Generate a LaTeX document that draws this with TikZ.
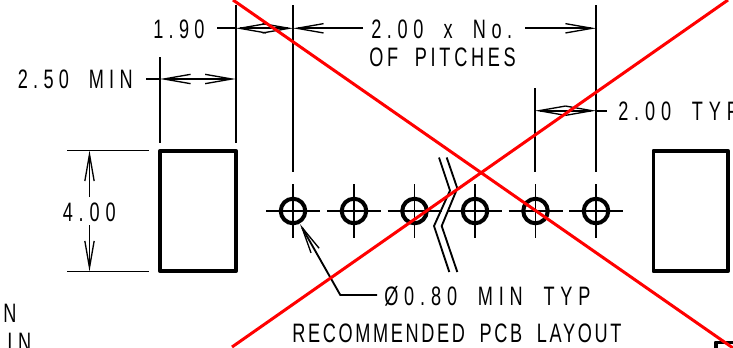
\documentclass[tikz,border=0pt]{standalone}
\usepackage{fontspec}
\setmainfont{Liberation Sans}[FakeStretch=0.68,WordSpace=1.9]
\newcommand{\lsp}[2]{\addfontfeature{LetterSpace=#1}#2}
\usetikzlibrary{arrows.meta}
\tikzset{
 x=0.75pt,y=-0.75pt,
 tipb/.tip={Straight Barb[length=20pt,width=7pt,line width=1pt]},
 thinl/.style={line width=1.4pt,draw=black},
 dim/.style={thinl,tipb-tipb},
 ld/.style={thinl,-tipb},
 pad/.style={draw=black,line width=2.8pt,line join=round},
 hole/.style={draw=black,line width=3pt,circle,minimum size=18.4pt,inner sep=0pt},
 cl/.style={line width=1.1pt,draw=black},
 ext/.style={line width=1.4pt,draw=black},
 xline/.style={draw=red,line width=2.25pt},
 lbl/.style={inner sep=0pt,anchor=base west,font=\fontsize{20}{20}\selectfont,text=black},
}
\begin{document}
\begin{tikzpicture}
\useasboundingbox (0,0) rectangle (733,347);
% extension lines
\coordinate (e1a) at (160,57); \coordinate (e1b) at (160,143);
\coordinate (e2a) at (235.7,5); \coordinate (e2b) at (235.7,143);
\coordinate (e3a) at (293,5); \coordinate (e3b) at (293,172);
\coordinate (e4a) at (535,88); \coordinate (e4b) at (535,172);
\coordinate (e5a) at (596,5); \coordinate (e5b) at (596,172);
\foreach \i in {1,...,5} \draw[ext] (e\i a)--(e\i b);
\coordinate (h1a) at (67,150.5); \coordinate (h1b) at (149,150.5);
\coordinate (h2a) at (67,271.5); \coordinate (h2b) at (149,271.5);
\draw[ext] (h1a)--(h1b); \draw[ext] (h2a)--(h2b);
% pads
\node[pad,minimum width=57pt,minimum height=90.5pt,inner sep=0pt] (padL) at (198,211) {};
\node[pad,minimum width=56pt,minimum height=90.5pt,inner sep=0pt] (padR) at (690.7,211) {};
\node[pad,minimum width=30pt,minimum height=20pt,inner sep=0pt,anchor=north west] (padC) at (714,340.5) {};
% holes
\foreach \n/\cx in {a/293,b/354,c/414.5,d/475,e/535.5,f/596}{
 \node[hole] (h\n) at (\cx,211) {};
 \coordinate (hl\n) at (\cx-27,211); \coordinate (hr\n) at (\cx+27,211);
 \coordinate (ht\n) at (\cx,184); \coordinate (hb\n) at (\cx,238);
 \draw[cl] (hl\n)--(hr\n); \draw[cl] (ht\n)--(hb\n);
}
% break
\coordinate (b1) at (439,157.5); \coordinate (b2) at (450,190.5); \coordinate (b3) at (434,226); \coordinate (b4) at (449.3,272);
\coordinate (c1) at (446.7,157.5); \coordinate (c2) at (457.3,188.3); \coordinate (c3) at (441.7,226); \coordinate (c4) at (457.3,272);
\draw[ext] (b1)--(b2)--(b3)--(b4);
\draw[ext] (c1)--(c2)--(c3)--(c4);
% dimensions
\coordinate (d1l) at (217,28.3); \coordinate (d1a) at (235.7,28.3); \coordinate (d1b) at (293,28.3);
\draw[thinl] (d1l)--(d1a);
\draw[dim] (d1a)--(d1b);
\coordinate (d2a) at (363,28.3); \draw[ld] (d2a)--(e3a|-d2a);
\coordinate (d3a) at (525,28.3); \coordinate (d3b) at (596,28.3); \draw[ld] (d3a)--(d3b);
\coordinate (d4l) at (146,79); \coordinate (d4a) at (160,79); \coordinate (d4b) at (235.7,79);
\draw[thinl] (d4l)--(d4a); \draw[dim] (d4a)--(d4b);
\coordinate (d5a) at (535,110.7); \coordinate (d5b) at (596,110.7); \coordinate (d5r) at (606.7,110.7);
\draw[thinl] (d5b)--(d5r); \draw[dim] (d5a)--(d5b);
\coordinate (d6a) at (89.5,197); \coordinate (d6b) at (89.5,150.5); \draw[ld] (d6a)--(d6b);
\coordinate (d7a) at (89.5,225); \coordinate (d7b) at (89.5,271.5); \draw[ld] (d7a)--(d7b);
% leader
\coordinate (l1) at (377,295); \coordinate (l2) at (340.3,295); \coordinate (l3) at (300,224);
\draw[ld] (l1)--(l2)--(l3);
% labels
\node[lbl] (t190) at (153,38) {\lsp{20}{1.90}};
\node[lbl] (t250) at (17.5,88.3) {\lsp{20}{2.50 MIN}};
\node[lbl] (t200a) at (371,38) {\lsp{21}{2.00 x No.}};
\node[lbl] (t200b) at (369,66.7) {\lsp{14}{OF PITCHES}};
\node[lbl] (t200c) at (618,120.7) {\lsp{22}{2.00 TYP}};
\node[lbl] (t400) at (62.5,221.5) {\lsp{22}{4.00}};
\node[lbl] (t080) at (384,305) {\lsp{22}{Ø0.80 MIN TYP}};
\node[lbl] (trec) at (292,342.5) {\lsp{10}{RECOMMENDED PCB LAYOUT}};
\node[lbl] (tn1) at (3,322.7) {N};
\node[lbl] (tn2) at (7,351.5) {\lsp{22}{IN}};
% red X
\coordinate (r1) at (233,0); \coordinate (r2) at (733,348);
\coordinate (r3) at (232,347); \coordinate (r4) at (728,0);
\draw[xline] (r1)--(r2); \draw[xline] (r3)--(r4);
\end{tikzpicture}
\end{document}
